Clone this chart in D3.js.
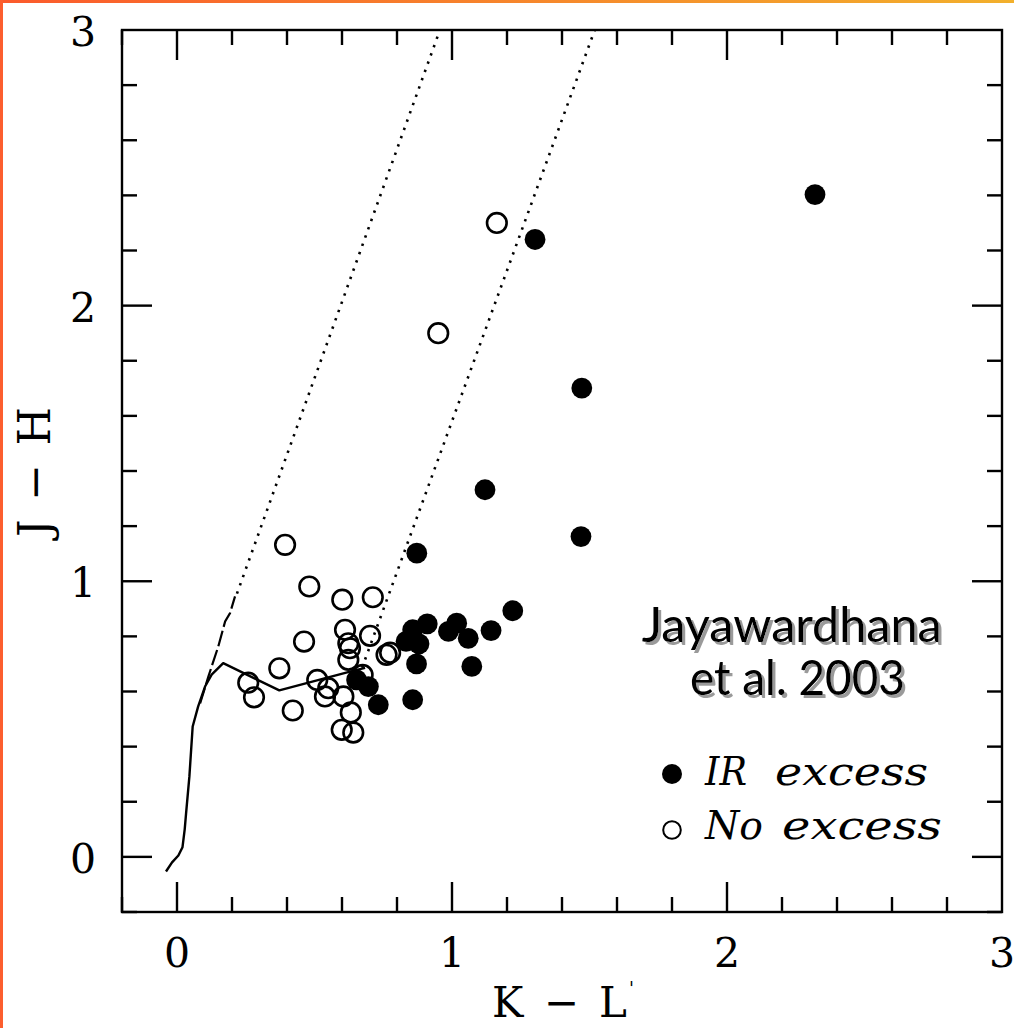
<!DOCTYPE html>
<html>
<head>
<meta charset="utf-8">
<script src="https://cdn.jsdelivr.net/npm/d3@7"></script>
<style>
  html, body { margin: 0; padding: 0; background: #fff; }
  svg { display: block; }
</style>
</head>
<body>
<svg id="chart" width="1014" height="1028"></svg>
<script>
// ---- Data ----
const irExcess = [ // [K-L', J-H]
  [2.320, 2.403], [1.302, 2.240], [1.472, 1.701], [1.120, 1.332], [1.469, 1.162],
  [0.872, 1.102], [1.221, 0.893], [1.142, 0.821], [1.059, 0.793], [1.017, 0.848],
  [0.987, 0.818], [1.072, 0.691], [0.910, 0.845], [0.857, 0.824], [0.833, 0.782],
  [0.880, 0.773], [0.871, 0.700], [0.857, 0.570], [0.732, 0.552], [0.653, 0.642],
  [0.696, 0.618]
];
const noExcess = [
  [1.163, 2.300], [0.950, 1.900], [0.393, 1.132], [0.481, 0.981], [0.601, 0.933],
  [0.712, 0.942], [0.462, 0.781], [0.611, 0.824], [0.702, 0.802], [0.623, 0.775],
  [0.629, 0.757], [0.623, 0.715], [0.762, 0.733], [0.775, 0.741], [0.372, 0.684],
  [0.259, 0.632], [0.280, 0.579], [0.510, 0.642], [0.550, 0.612], [0.538, 0.582],
  [0.605, 0.582], [0.421, 0.531], [0.632, 0.524], [0.599, 0.461], [0.641, 0.451],
  [0.675, 0.660]
];
const dwarfLocus = [
  [-0.040, -0.053], [-0.018, -0.020], [0.005, 0.005], [0.020, 0.035], [0.028, 0.100],
  [0.033, 0.158], [0.045, 0.291], [0.057, 0.473], [0.077, 0.546], [0.102, 0.618],
  [0.126, 0.661], [0.168, 0.703], [0.372, 0.604], [0.629, 0.672], [0.684, 0.686]
];
const giantLocus = [
  [0.084, 0.557], [0.114, 0.654], [0.150, 0.763], [0.175, 0.854], [0.193, 0.885],
  [0.211, 0.945]
];
const reddeningLeft = [[0.218, 0.955], [0.956, 3.0]];
const reddeningRight = [[0.673, 0.686], [1.519, 3.0]];
const xMajorTicks = [0, 1, 2, 3];
const yMajorTicks = [0, 1, 2, 3];
const xTickLabels = ["0", "1", "2", "3"];
const yTickLabels = ["0", "1", "2", "3"];
const minorTicks = [-0.2, 0.2, 0.4, 0.6, 0.8, 1.2, 1.4, 1.6, 1.8, 2.2, 2.4, 2.6, 2.8];
const legendTitle = ["Jayawardhana", "et al. 2003"];
const legendItems = [["IR", "excess"], ["No", "excess"]];

// ---- Layout ----
const svg = d3.select("#chart");
const L = 122, T = 30, R = 1002, B = 912;
const x = d3.scaleLinear().domain([-0.2, 3]).range([L, R]);
const y = d3.scaleLinear().domain([-0.2, 3]).range([B, T]);

// orange page border
const defs = svg.append("defs");
const g1 = defs.append("linearGradient").attr("id", "topGrad").attr("x1", "0").attr("x2", "1").attr("y1", "0").attr("y2", "0");
g1.append("stop").attr("offset", "0").attr("stop-color", "#fb5a2c");
g1.append("stop").attr("offset", "1").attr("stop-color", "#f2b02c");
svg.append("rect").attr("x", 0).attr("y", 0).attr("width", 1014).attr("height", 3).attr("fill", "url(#topGrad)");
svg.append("rect").attr("x", 0).attr("y", 0).attr("width", 3).attr("height", 1028).attr("fill", "#fc5e2e");

const shadow = defs.append("filter").attr("id", "shadow")
  .attr("x", "-10%").attr("y", "-20%").attr("width", "130%").attr("height", "150%");
shadow.append("feDropShadow").attr("dx", 3).attr("dy", 3).attr("stdDeviation", 0.6)
  .attr("flood-color", "#9a9a9a").attr("flood-opacity", 1);

const clip = defs.append("clipPath").attr("id", "plotClip");
clip.append("rect").attr("x", L).attr("y", T).attr("width", R - L).attr("height", B - T);

const plot = svg.append("g").attr("clip-path", "url(#plotClip)");
const line = d3.line().x(d => x(d[0])).y(d => y(d[1]));

// reddening band (dotted)
[reddeningLeft, reddeningRight].forEach(seg => {
  plot.append("path").datum(seg).attr("d", line)
    .attr("fill", "none").attr("stroke", "#000").attr("stroke-width", 2.6)
    .attr("stroke-dasharray", "2.4,6.4");
});
// loci
plot.append("path").datum(giantLocus).attr("d", line)
  .attr("fill", "none").attr("stroke", "#000").attr("stroke-width", 2.2)
  .attr("stroke-dasharray", "16,4");
plot.append("path").datum(dwarfLocus).attr("d", line)
  .attr("fill", "none").attr("stroke", "#000").attr("stroke-width", 2.4)
  .attr("stroke-linejoin", "round");

// points
plot.selectAll("circle.open").data(noExcess).join("circle").attr("class", "open")
  .attr("cx", d => x(d[0])).attr("cy", d => y(d[1])).attr("r", 9.8)
  .attr("fill", "none").attr("stroke", "#000").attr("stroke-width", 2.6);
plot.selectAll("circle.filled").data(irExcess).join("circle").attr("class", "filled")
  .attr("cx", d => x(d[0])).attr("cy", d => y(d[1])).attr("r", 10.4)
  .attr("fill", "#000");

// frame and ticks
const axes = svg.append("g").attr("stroke", "#000").attr("stroke-width", 2.4).attr("fill", "none");
axes.append("rect").attr("x", L).attr("y", T).attr("width", R - L).attr("height", B - T);
const majLen = 30, minLen = 15;
function ticksX(vals, len) {
  vals.forEach(v => {
    axes.append("line").attr("x1", x(v)).attr("x2", x(v)).attr("y1", B).attr("y2", B - len);
    axes.append("line").attr("x1", x(v)).attr("x2", x(v)).attr("y1", T).attr("y2", T + len);
  });
}
function ticksY(vals, len) {
  vals.forEach(v => {
    axes.append("line").attr("y1", y(v)).attr("y2", y(v)).attr("x1", L).attr("x2", L + len);
    axes.append("line").attr("y1", y(v)).attr("y2", y(v)).attr("x1", R).attr("x2", R - len);
  });
}
ticksX(xMajorTicks.filter(v => v < 3), majLen);
ticksX(minorTicks, minLen);
ticksY(yMajorTicks.filter(v => v < 3), majLen);
ticksY(minorTicks, minLen);

// tick labels
const serif = "'DejaVu Serif', serif";
svg.selectAll("text.xt").data(xMajorTicks).join("text").attr("class", "xt")
  .attr("x", d => x(d)).attr("y", 967).attr("text-anchor", "middle")
  .attr("font-family", serif).attr("font-size", 41).text((d, i) => xTickLabels[i]);
svg.selectAll("text.yt").data(yMajorTicks).join("text").attr("class", "yt")
  .attr("x", 96).attr("y", d => y(d) + 16).attr("text-anchor", "end")
  .attr("font-family", serif).attr("font-size", 41).text((d, i) => yTickLabels[i]);

// axis titles
svg.append("text").attr("x", 492).attr("y", 1017)
  .attr("font-family", serif).attr("font-size", 42)
  .attr("textLength", 135).attr("lengthAdjust", "spacing").text("K − L");
svg.append("text").attr("x", 629).attr("y", 995)
  .attr("font-family", serif).attr("font-size", 18).text("'");
svg.append("text").attr("transform", "translate(50,472) rotate(-90)")
  .attr("text-anchor", "middle")
  .attr("font-family", serif).attr("font-size", 44)
  .attr("textLength", 130).attr("lengthAdjust", "spacing").text("J − H");

// legend title with drop shadow
const sans = "Lato, 'Open Sans', sans-serif";
const titlePos = [{cx: 791.7, by: 642, w: 300}, {cx: 797.5, by: 695, w: 215}];
legendTitle.forEach((t, i) => {
  const p = titlePos[i];
  svg.append("text").attr("x", p.cx).attr("y", p.by).attr("text-anchor", "middle")
    .attr("font-family", sans).attr("font-size", 48).attr("fill", "#000")
    .attr("filter", "url(#shadow)")
    .attr("textLength", p.w).attr("lengthAdjust", "spacingAndGlyphs").text(t);
});

// legend entries
svg.append("circle").attr("cx", 672).attr("cy", 774).attr("r", 10).attr("fill", "#000");
svg.append("circle").attr("cx", 672).attr("cy", 830).attr("r", 8.8)
  .attr("fill", "none").attr("stroke", "#000").attr("stroke-width", 2);
const legY = [785, 839];
const legX = [[705, 775], [705, 782]];
const legW = [[42, 153], [58, 160]];
legendItems.forEach((words, i) => {
  const t = svg.append("text").attr("y", legY[i])
    .attr("font-family", serif).attr("font-style", "italic").attr("font-size", 39);
  words.forEach((w, j) => {
    t.append("tspan").attr("x", legX[i][j])
      .attr("textLength", legW[i][j]).attr("lengthAdjust", "spacingAndGlyphs").text(w);
  });
});
</script>
</body>
</html>
